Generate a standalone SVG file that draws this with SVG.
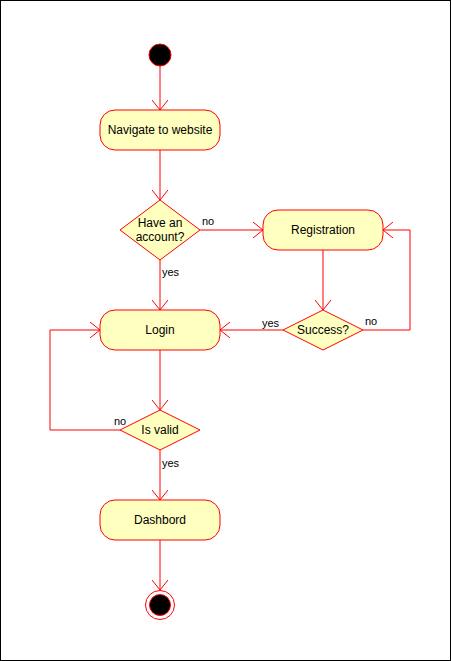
<svg xmlns="http://www.w3.org/2000/svg" width="451" height="661" viewBox="0 0 451 661">
<style>
.n{fill:#FFFFC0;stroke:#FF0000;stroke-width:1}
.t{font-family:"Liberation Sans",Arial,sans-serif;font-size:12px;fill:#000;text-anchor:middle}
.l{font-family:"Liberation Sans",Arial,sans-serif;font-size:11px;fill:#000}
.e{fill:none;stroke:#FF0000;stroke-width:1;marker-end:url(#a)}
</style>
<defs>
<marker id="a" viewBox="0 0 10 16" refX="10" refY="8" markerWidth="10" markerHeight="16" markerUnits="userSpaceOnUse" orient="auto">
<path d="M0,0 L10,8 L0,16" fill="none" stroke="#FF0000" stroke-width="1"/>
</marker>
</defs>
<rect x="0.5" y="0.5" width="450" height="660" fill="#fff" stroke="#000"/>
<g id="connectors">
<path class="e" d="M160,66 L160,110"/>
<path class="e" d="M160,150 L160,200"/>
<path class="e" d="M200,230 L263,230"/>
<path class="e" d="M160,260 L160,310"/>
<path class="e" d="M323,250 L323,310"/>
<path class="e" d="M283,330 L220,330"/>
<path class="e" d="M363,330 L410,330 L410,230 L383,230"/>
<path class="e" d="M160,350 L160,410"/>
<path class="e" d="M120,430 L50,430 L50,330 L100,330"/>
<path class="e" d="M160,450 L160,500"/>
<path class="e" d="M160,540 L160,590"/>
<text class="l" x="202" y="225">no</text>
<text class="l" x="162" y="276">yes</text>
<text class="l" x="262" y="327">yes</text>
<text class="l" x="365" y="325">no</text>
<text class="l" x="114" y="425">no</text>
<text class="l" x="162" y="467">yes</text>
</g>
<g id="start"><circle cx="160" cy="55" r="11" fill="#000" stroke="#FF0000"/></g>
<g id="navigate"><rect class="n" x="100" y="110" width="120" height="40" rx="15"/><text class="t" x="160" y="134">Navigate to website</text></g>
<g id="have-account"><path class="n" d="M160,200 L200,230 L160,260 L120,230 Z"/><text class="t" x="160" y="227">Have an</text><text class="t" x="160" y="241">account?</text></g>
<g id="registration"><rect class="n" x="263" y="210" width="120" height="40" rx="15"/><text class="t" x="323" y="234">Registration</text></g>
<g id="success"><path class="n" d="M323,310 L363,330 L323,350 L283,330 Z"/><text class="t" x="323" y="334">Success?</text></g>
<g id="login"><rect class="n" x="100" y="310" width="120" height="40" rx="15"/><text class="t" x="160" y="334">Login</text></g>
<g id="is-valid"><path class="n" d="M160,410 L200,430 L160,450 L120,430 Z"/><text class="t" x="160" y="434">Is valid</text></g>
<g id="dashbord"><rect class="n" x="100" y="500" width="120" height="40" rx="15"/><text class="t" x="160" y="524">Dashbord</text></g>
<g id="end"><circle cx="160" cy="605" r="14.5" fill="#fff" stroke="#FF0000"/><circle cx="160" cy="605" r="10.5" fill="#000" stroke="#FF0000"/></g>
</svg>
